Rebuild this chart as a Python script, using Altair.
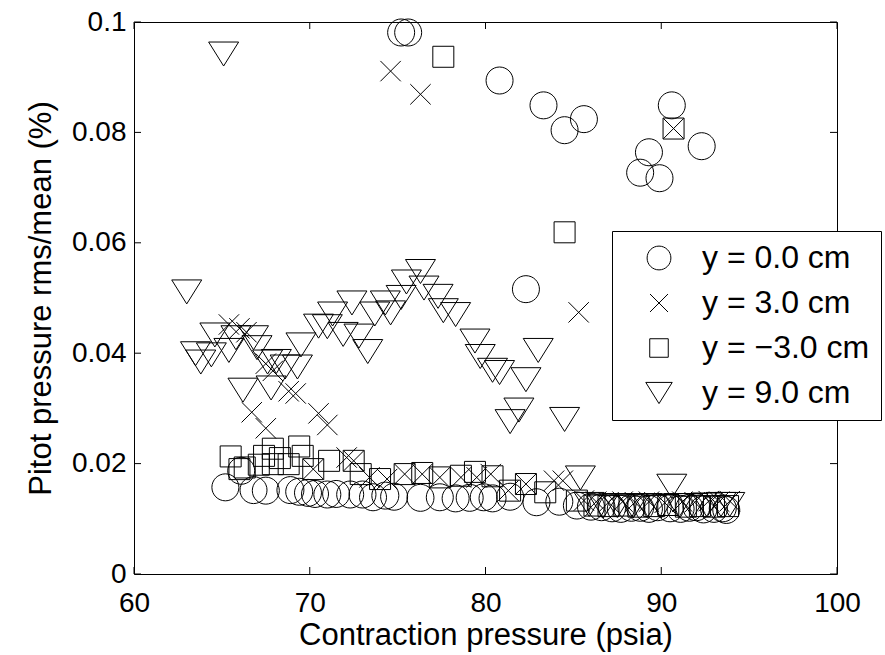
import altair as alt
import pandas as pd

series_names = ["y = 0.0 cm", "y = 3.0 cm", "y = \u22123.0 cm", "y = 9.0 cm"]

circ_x = [75.2, 75.6, 80.8, 83.3, 84.5, 85.6, 82.3, 88.8, 89.3, 89.9, 90.6, 92.3,
          65.2, 66.1, 66.8, 67.5, 68.9, 69.4, 69.9, 70.3, 71.0, 71.5,
          72.3, 73.0, 73.6, 74.3, 74.8, 76.3, 77.4, 78.3, 79.1, 79.9,
          80.4, 81.4, 82.9, 84.2, 85.2, 86.0, 86.6, 87.2, 87.7, 88.3,
          88.8, 89.3, 89.8, 90.5, 91.1, 91.6, 92.0, 92.4, 93.0, 93.5, 93.7]
circ_y = [0.0981, 0.0981, 0.0894, 0.0849, 0.0804, 0.0824, 0.0516, 0.0727, 0.0764, 0.0717, 0.0849, 0.0775,
          0.0157, 0.0187, 0.0152, 0.0151, 0.0152, 0.0149, 0.0147, 0.0145, 0.0144, 0.0145,
          0.0144, 0.0144, 0.0139, 0.0142, 0.0140, 0.0138, 0.0139, 0.0137, 0.0138, 0.0139,
          0.0137, 0.0140, 0.0130, 0.0131, 0.0124, 0.0122, 0.0121, 0.0119, 0.0118, 0.0120,
          0.0120, 0.0118, 0.0121, 0.0119, 0.0118, 0.0120, 0.0121, 0.0117, 0.0118, 0.0119, 0.0116]

cross_x = [74.6, 76.3, 90.7, 85.3, 65.4, 66.0, 66.4, 67.5, 67.9, 68.8, 69.2, 66.7, 67.5, 70.5, 71.0,
           70.2, 72.1, 72.5, 73.4, 74.4, 75.4, 76.4, 77.4, 78.6, 79.5, 80.3, 81.3, 82.3, 83.9, 84.4,
           85.6, 86.3, 87.0, 87.8, 88.5, 89.3, 90.2, 91.2, 91.9, 92.7, 93.3, 93.9]
cross_y = [0.0911, 0.0869, 0.0807, 0.0474, 0.0452, 0.0445, 0.0438, 0.0381, 0.0368, 0.0331, 0.0327, 0.0293, 0.0264, 0.0291, 0.0270,
           0.0190, 0.0211, 0.0205, 0.0175, 0.0172, 0.0181, 0.0181, 0.0175, 0.0175, 0.0175, 0.0181, 0.0151, 0.0163, 0.0169, 0.0169,
           0.0133, 0.0131, 0.0130, 0.0131, 0.0130, 0.0131, 0.0129, 0.0131, 0.0130, 0.0132, 0.0131, 0.0132]

sq_x = [77.6, 90.7, 84.5,
        65.5, 66.0, 66.3, 67.1, 67.4, 67.9, 67.9, 68.3, 68.8, 69.4, 69.6, 70.2, 71.1, 72.5, 72.9, 74.0,
        75.4, 76.4, 77.4, 78.6, 79.4, 80.4, 81.4, 82.3, 83.4, 85.2,
        86.2, 87.0, 87.9, 88.7, 89.6, 90.4, 91.4, 92.2, 93.0, 93.8]
sq_y = [0.0937, 0.0807, 0.0619,
        0.0213, 0.0190, 0.0193, 0.0198, 0.0214, 0.0227, 0.0199, 0.0210, 0.0199, 0.0231, 0.0214, 0.0190, 0.0205, 0.0205, 0.0181, 0.0172,
        0.0181, 0.0183, 0.0175, 0.0178, 0.0185, 0.0177, 0.0151, 0.0163, 0.0148, 0.0133,
        0.0124, 0.0123, 0.0124, 0.0122, 0.0123, 0.0125, 0.0122, 0.0123, 0.0122, 0.0123]

tri_x = [65.1, 63.0, 63.5, 63.8, 64.4, 64.6, 65.4, 65.8, 66.2, 66.8, 67.0, 67.6, 67.8, 68.1, 68.6,
         69.3, 69.5, 70.5, 71.0, 71.3, 71.9, 72.4, 72.8, 73.3, 73.7, 74.3, 74.6, 75.2, 75.5, 76.3,
         76.5, 77.3, 77.6, 78.3, 79.4, 79.7, 80.4, 80.8, 81.4, 81.9, 82.3, 83.0, 84.5, 85.4, 90.6,
         85.9, 86.7, 87.5, 88.4, 89.2, 90.0, 91.0, 91.8, 92.6, 93.4, 93.9]
tri_y = [0.0942, 0.0511, 0.0399, 0.0384, 0.0397, 0.0433, 0.0405, 0.0428, 0.0333, 0.0428, 0.0410, 0.0384, 0.0337, 0.0385, 0.0375,
         0.0375, 0.0415, 0.0449, 0.0448, 0.0471, 0.0434, 0.0491, 0.0431, 0.0403, 0.0471, 0.0491, 0.0473, 0.0501, 0.0529, 0.0548,
         0.0518, 0.0503, 0.0477, 0.0470, 0.0422, 0.0394, 0.0369, 0.0365, 0.0276, 0.0297, 0.0352, 0.0405, 0.0280, 0.0174, 0.0159,
         0.0126, 0.0123, 0.0124, 0.0123, 0.0124, 0.0123, 0.0124, 0.0124, 0.0125, 0.0126, 0.0126]

x_ticks = [60, 70, 80, 90, 100]
y_ticks = [0, 0.02, 0.04, 0.06, 0.08, 0.1]

rows = []
for name, xs_, ys_ in zip(series_names, [circ_x, cross_x, sq_x, tri_x], [circ_y, cross_y, sq_y, tri_y]):
    for a, b in zip(xs_, ys_):
        rows.append({"p": a, "r": b, "series": name})
df = pd.DataFrame(rows)

W, H = 703, 552
FONT = "Liberation Sans"
FS = 32   # legend
TFS = 31  # axis titles
LFS = 28  # tick labels

shape_range = [
    "M-0.9,0A0.9,0.9,0,1,1,0.9,0A0.9,0.9,0,1,1,-0.9,0Z",
    "M-0.68,-0.68L0.68,0.68M-0.68,0.68L0.68,-0.68",
    "M-0.7,-0.7L0.7,-0.7L0.7,0.7L-0.7,0.7Z",
    "M-1,-0.8L1,-0.8L0,0.8Z",
]

xs = alt.Scale(domain=[60, 100], nice=False, zero=False)
ys = alt.Scale(domain=[0, 0.1], nice=False, zero=False)

x_axis = alt.Axis(values=x_ticks, title="Contraction pressure (psia)", ticks=False, domain=False,
                  grid=False, labelFlush=False, labelPadding=15, titlePadding=3, format="d")
y_axis = alt.Axis(values=y_ticks, title="Pitot pressure rms/mean (%)", ticks=False, domain=False,
                  grid=False, labelFlush=False, labelPadding=8, titlePadding=14, format="~g")

points = alt.Chart(df).mark_point(
    filled=False, color="black", strokeWidth=1, size=900, opacity=1
).encode(
    x=alt.X("p:Q", scale=xs, axis=x_axis, title="Contraction pressure (psia)"),
    y=alt.Y("r:Q", scale=ys, axis=y_axis, title="Pitot pressure rms/mean (%)"),
    shape=alt.Shape("series:N", scale=alt.Scale(domain=series_names, range=shape_range),
                    sort=series_names,
                    legend=alt.Legend(title=None, orient="none", legendX=478, legendY=209,
                                      strokeColor="black", fillColor="white", padding=11,
                                      symbolSize=700, symbolStrokeWidth=1, symbolStrokeColor="black",
                                      symbolFillColor="transparent",
                                      labelFontSize=FS, labelFont=FONT, labelColor="black",
                                      rowPadding=13, labelOffset=27, labelLimit=0, cornerRadius=0,
                                      symbolOffset=20)),
)

tx = pd.DataFrame({"p": x_ticks})
ty = pd.DataFrame({"r": y_ticks})

tick_b = alt.Chart(tx).mark_rule(color="black", strokeWidth=1).encode(
    x=alt.X("p:Q", scale=xs, axis=x_axis, title="Contraction pressure (psia)"),
    y=alt.value(H), y2=alt.value(H - 7))
tick_t = alt.Chart(tx).mark_rule(color="black", strokeWidth=1).encode(
    x=alt.X("p:Q", scale=xs, axis=x_axis, title="Contraction pressure (psia)"),
    y=alt.value(0), y2=alt.value(7))
tick_l = alt.Chart(ty).mark_rule(color="black", strokeWidth=1).encode(
    y=alt.Y("r:Q", scale=ys, axis=y_axis, title="Pitot pressure rms/mean (%)"),
    x=alt.value(0), x2=alt.value(7))
tick_r = alt.Chart(ty).mark_rule(color="black", strokeWidth=1).encode(
    y=alt.Y("r:Q", scale=ys, axis=y_axis, title="Pitot pressure rms/mean (%)"),
    x=alt.value(W), x2=alt.value(W - 7))

chart = alt.layer(points, tick_b, tick_t, tick_l, tick_r).properties(
    width=W, height=H,
    autosize=alt.AutoSizeParams(type="none"),
    padding={"left": 134, "top": 22, "right": 48, "bottom": 81},
    background="white",
).configure_view(
    stroke="black", strokeWidth=1
).configure_axis(
    labelFont=FONT, labelFontSize=LFS, labelColor="black",
    titleFont=FONT, titleFontSize=TFS, titleColor="black", titleFontWeight="normal",
)

chart.save("out.html", embed_options={"renderer": "svg", "actions": False})
